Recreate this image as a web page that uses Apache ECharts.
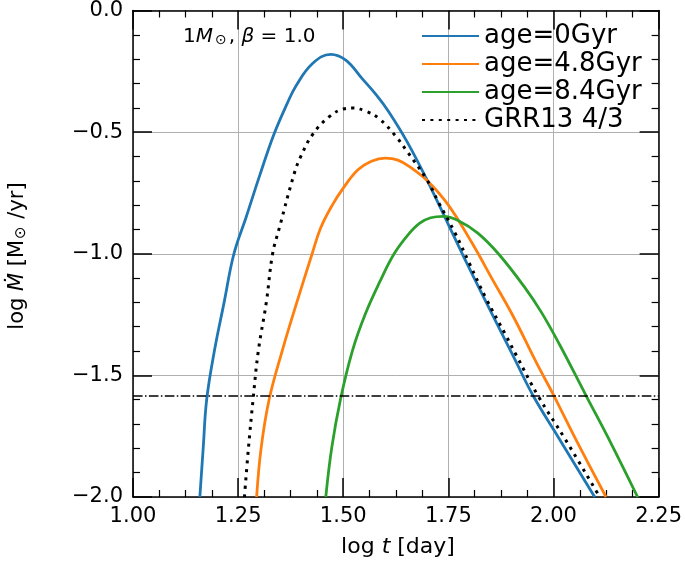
<!DOCTYPE html>
<html>
<head>
<meta charset="utf-8">
<script src="https://cdn.jsdelivr.net/npm/echarts@6/dist/echarts.min.js"></script>
<style>html,body{margin:0;padding:0;background:#fff;}#c{width:685px;height:570px;}</style>
</head>
<body>
<div id="c"></div>
<script>
// ---- data ----
const seriesNames = ['age=0Gyr', 'age=4.8Gyr', 'age=8.4Gyr', 'GRR13 4/3'];

const age0_logt = [1.159,1.1669,1.1752,1.1935,1.2167,1.240,1.269,1.301,1.335,1.366,1.3875,1.427,1.4704,1.506,1.545,1.580,1.6085,1.652,1.699,1.750,1.790,1.840,1.904,1.952,2.011,2.098];
const age0_logM = [-2.0,-1.8,-1.6,-1.4,-1.2,-1.0,-0.85,-0.68,-0.51,-0.385,-0.31,-0.218,-0.180,-0.204,-0.28,-0.35,-0.417,-0.54,-0.696,-0.88,-1.025,-1.20,-1.42,-1.585,-1.753,-2.0];

const age48_logt = [1.294,1.3046,1.3236,1.3547,1.3896,1.426,1.446,1.474,1.500,1.535,1.567,1.600,1.630,1.660,1.700,1.750,1.806,1.853,1.905,1.960,2.0014,2.050,2.125];
const age48_logM = [-2.0,-1.8,-1.6,-1.4,-1.2,-1.0,-0.895,-0.80,-0.73,-0.655,-0.62,-0.607,-0.615,-0.645,-0.70,-0.80,-0.955,-1.10,-1.26,-1.45,-1.585,-1.753,-2.0];

const age84_logt = [1.4585,1.4724,1.4932,1.5216,1.552,1.587,1.621,1.655,1.682,1.708,1.7386,1.774,1.820,1.869,1.932,1.971,2.015,2.078,2.129,2.200];
const age84_logM = [-2.0,-1.8,-1.6,-1.4,-1.25,-1.115,-1.0,-0.92,-0.874,-0.852,-0.846,-0.864,-0.915,-1.0,-1.139,-1.24,-1.375,-1.585,-1.753,-2.0];

const grr_logt = [1.265,1.2745,1.2855,1.298,1.317,1.332,1.348,1.3835,1.399,1.427,1.466,1.500,1.523,1.555,1.585,1.624,1.652,1.699,1.727,1.766,1.800,1.840,1.885,1.912,1.9635,2.027,2.110];
const grr_logM = [-2.0,-1.8,-1.6,-1.4,-1.2,-1.0,-0.894,-0.67,-0.60,-0.51,-0.4375,-0.405,-0.401,-0.415,-0.444,-0.515,-0.58,-0.696,-0.79,-0.915,-1.04,-1.185,-1.33,-1.419,-1.585,-1.76,-2.0];

const refLine_logt = [1.0, 2.25];
const refLine_logM = -1.585;

const xTickValues = [1.00, 1.25, 1.50, 1.75, 2.00, 2.25];
const yTickValues = [0.0, -0.5, -1.0, -1.5, -2.0];

// ---- chart ----
const zip = (xs, ys) => xs.map((x, i) => [x, Array.isArray(ys) ? ys[i] : ys]);
const FONT = 'DejaVu Sans';
const colors = ['#1f77b4', '#ff7f0e', '#2ca02c', '#000000'];

const chart = echarts.init(document.getElementById('c'), null, {renderer: 'canvas'});

function axisCommon(showLabels, fmt) {
  return {
    axisLine: {show: true, onZero: false, lineStyle: {color: '#000', width: 1.5}},
    axisTick: {show: true, inside: true, length: 19, lineStyle: {color: '#000', width: 1.5}},
    axisLabel: {show: showLabels, color: '#000', fontFamily: FONT, fontSize: 21, formatter: fmt},
  };
}
const xFmt = v => v.toFixed(2);
const yFmt = v => v.toFixed(1).replace('-', '\u2212');

const lineSeries = (name, data, color, extra) => Object.assign({
  name, type: 'line', data, symbol: 'none', smooth: 0.4,
  clip: true, lineStyle: {color, width: 2.8}, itemStyle: {color}, animation: false,
  emphasis: {disabled: true}
}, extra || {});

chart.setOption({
  animation: false,
  backgroundColor: '#fff',
  grid: {left: 133, top: 8, width: 528, height: 489, containLabel: false},
  xAxis: [
    Object.assign({type: 'value', min: 1.0, max: 2.25, interval: 0.25, position: 'bottom',
      splitLine: {show: true, lineStyle: {color: '#b0b0b0', width: 1}}}, axisCommon(true, xFmt),
      {minorTick: {show: true, splitNumber: 4, length: 7, lineStyle: {color: '#000', width: 1.2}},
       axisLabel: {show: true, color: '#000', fontFamily: FONT, fontSize: 21, margin: 9, formatter: xFmt,
        customValues: xTickValues}}),
    Object.assign({type: 'value', min: 1.0, max: 2.25, interval: 0.25, position: 'top',
      splitLine: {show: false}}, axisCommon(false, xFmt),
      {minorTick: {show: true, splitNumber: 4, length: 7, lineStyle: {color: '#000', width: 1.2}}})
  ],
  yAxis: [
    Object.assign({type: 'value', min: -2.0, max: 0.0, interval: 0.5, position: 'left',
      splitLine: {show: true, lineStyle: {color: '#b0b0b0', width: 1}}}, axisCommon(true, yFmt),
      {minorTick: {show: true, splitNumber: 5, length: 7, lineStyle: {color: '#000', width: 1.2}},
       axisLabel: {show: true, color: '#000', fontFamily: FONT, fontSize: 21, margin: 10, formatter: yFmt,
        customValues: yTickValues}}),
    Object.assign({type: 'value', min: -2.0, max: 0.0, interval: 0.5, position: 'right',
      splitLine: {show: false}}, axisCommon(false, yFmt),
      {minorTick: {show: true, splitNumber: 5, length: 7, lineStyle: {color: '#000', width: 1.2}}})
  ],
  legend: {
    show: true, orient: 'vertical', left: 421, top: 22, padding: 0, itemGap: 0,
    itemWidth: 57, itemHeight: 14,
    data: seriesNames.map(n => ({name: n})),
    itemStyle: {opacity: 0},
    textStyle: {fontFamily: FONT, fontSize: 26, color: '#000', lineHeight: 28},
    selectedMode: false
  },
  series: [
    lineSeries(seriesNames[0], zip(age0_logt, age0_logM), colors[0]),
    lineSeries(seriesNames[1], zip(age48_logt, age48_logM), colors[1]),
    lineSeries(seriesNames[2], zip(age84_logt, age84_logM), colors[2]),
    lineSeries(seriesNames[3], zip(grr_logt, grr_logM), colors[3],
      {lineStyle: {color: '#000', width: 3, type: [3, 5.4], cap: 'butt'}}),
    {name: 'ref', type: 'line', data: zip(refLine_logt, refLine_logM), symbol: 'none',
      lineStyle: {color: '#000', width: 1.5, type: [9.6, 2.4, 1.5, 2.4]}, silent: true}
  ],
  graphic: [
    {type: 'text', left: 183, top: 27, style: {
      text: '{n|1}{i|M}{s|\u2299}{n|, }{i|\u03b2}{n| = 1.0}',
      rich: {
        n: {fontFamily: FONT, fontSize: 20, fill: '#000', verticalAlign: 'bottom'},
        i: {fontFamily: FONT, fontSize: 20, fontStyle: 'italic', fill: '#000', verticalAlign: 'bottom'},
        s: {fontFamily: FONT, fontSize: 14, fill: '#000', verticalAlign: 'bottom', padding: [0, 2, 0, 2]}
      }}},
    {type: 'text', x: 398, y: 547, style: {
      text: '{n|log }{i|t}{n| [day]}', align: 'center', verticalAlign: 'middle',
      rich: {
        n: {fontFamily: FONT, fontSize: 22, fill: '#000'},
        i: {fontFamily: FONT, fontSize: 22, fontStyle: 'italic', fill: '#000'}
      }}},
    {type: 'text', x: 18, y: 256, rotation: Math.PI / 2, style: {
      text: '{n|log }{i|\u1E40}{n| [M}{s|\u2299}{n| /yr]}', align: 'center', verticalAlign: 'middle',
      rich: {
        n: {fontFamily: FONT, fontSize: 21, fill: '#000', verticalAlign: 'bottom'},
        i: {fontFamily: FONT, fontSize: 21, fontStyle: 'italic', fill: '#000', verticalAlign: 'bottom'},
        s: {fontFamily: FONT, fontSize: 15, fill: '#000', verticalAlign: 'bottom', padding: [0, 1, 0, 1]}
      }}}
  ]
});
</script>
</body>
</html>
